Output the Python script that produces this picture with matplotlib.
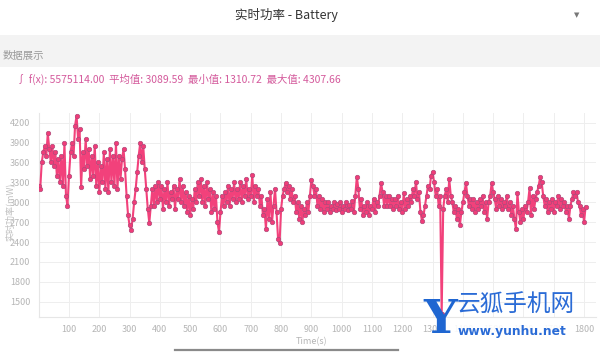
import matplotlib
matplotlib.use("Agg")
import matplotlib.pyplot as plt
import numpy as np

plt.rcParams['font.family'] = ['Noto Sans CJK SC', 'DejaVu Sans']

# sample spacing of the hand-read series (seconds)
step_s = 5

# power readings (mW), every 5 s, 0 .. 1805 s
power_mw = [
    3250, 3200, 3600, 3750, 3850, 3700, 4040, 3800, 3600, 3850,   # 0
    3550, 3750, 3400, 3650, 3300, 3700, 3250, 3890, 3100, 2950,   # 50
    3400, 3750, 3900, 3700, 4150, 4307, 3950, 4100, 3235, 3750,   # 100
    3500, 3950, 3550, 3800, 3350, 3700, 3400, 3850, 3250, 3600,   # 150
    3150, 3550, 3300, 3750, 3200, 3650, 3150, 3800, 3300, 3700,   # 200
    3250, 3890, 3200, 3700, 3350, 3650, 3800, 3500, 3100, 2800,   # 250
    2650, 2580, 2750, 3000, 3200, 3450, 3700, 3890, 3600, 3850,   # 300
    3500, 3200, 2900, 2690, 2950, 3200, 2950, 3250, 3000, 3300,   # 350
    3050, 3250, 2900, 3200, 3000, 3300, 2950, 3150, 3050, 3250,   # 400
    2900, 3200, 3050, 3350, 3000, 3250, 2950, 3150, 2850, 3100,   # 450
    2800, 3050, 2900, 3200, 3000, 3300, 3100, 3350, 3000, 3250,   # 500
    2950, 3300, 3050, 3200, 2850, 3150, 2900, 3100, 2700, 2550,   # 550
    2850, 3100, 2950, 3150, 3000, 3250, 2950, 3200, 3050, 3300,   # 600
    3000, 3200, 3050, 3300, 3000, 3250, 3100, 3350, 3050, 3200,   # 650
    3100, 3411, 3000, 3250, 3100, 3200, 2950, 3100, 2800, 2900,   # 700
    2600, 3050, 2750, 3150, 2700, 2950, 3200, 2850, 2450, 2386,   # 750
    2900, 3100, 3200, 3290, 3150, 3250, 3050, 3200, 3000, 3100,   # 800
    2850, 3000, 2750, 2950, 2700, 2900, 2800, 3000, 2850, 3100,   # 850
    3335, 3250, 3100, 3200, 2950, 3100, 2900, 3050, 2850, 3000,   # 900
    2900, 3000, 2850, 2950, 2900, 3000, 2880, 2980, 2900, 3000,   # 950
    2850, 2950, 2900, 3000, 2880, 2960, 2900, 3020, 2850, 3100,   # 1000
    3386, 3200, 2900, 3050, 2800, 2950, 2850, 3000, 2800, 2950,   # 1050
    2900, 3050, 2850, 3000, 2950, 3100, 3290, 3150, 2950, 3100,   # 1100
    2950, 3100, 2950, 3050, 2900, 3050, 2950, 3100, 2900, 3000,   # 1150
    2850, 3135, 2900, 3050, 2950, 3100, 3000, 3200, 3100, 3310,   # 1200
    3050, 3150, 2850, 2720, 2800, 2950, 3100, 3250, 3200, 3400,   # 1250
    3461, 3300, 3100, 3200, 2950, 3100, 1310, 2900, 3100, 3200,   # 1300
    3000, 3347, 3100, 3000, 2850, 2950, 2750, 2900, 2650, 2850,   # 1350
    3000, 3150, 3290, 3100, 2950, 3050, 2900, 3050, 2850, 3000,   # 1400
    2900, 3050, 2950, 3100, 2850, 3000, 2750, 3000, 3100, 3290,   # 1450
    3150, 3050, 2900, 3100, 2950, 3050, 2900, 3000, 2950, 3100,   # 1500
    2900, 3000, 2800, 2950, 2750, 2600, 3135, 2850, 2700, 2900,   # 1550
    2750, 2950, 2850, 3000, 3210, 2800, 3100, 2900, 3050, 3150,   # 1600
    3250, 3377, 3300, 3100, 2950, 3050, 2850, 3000, 2900, 3050,   # 1650
    2850, 3000, 2950, 3100, 2900, 3050, 2950, 3000, 2850, 2950,   # 1700
    2750, 2950, 3050, 3150, 3100, 3150, 3000, 2950, 2800, 2900,   # 1750
    2700, 2935,                                                   # 1800
]

y_ticks = [1500, 1800, 2100, 2400, 2700, 3000, 3300, 3600, 3900, 4200]
x_ticks = [100, 200, 300, 400, 500, 600, 700, 800, 900, 1000,
           1100, 1200, 1300, 1400, 1500, 1600, 1700, 1800]

title_txt = '实时功率 - Battery'
section_txt = '数据展示'
stats_txt = '∫ f(x): 5575114.00  平均值: 3089.59  最小值: 1310.72  最大值: 4307.66'

W, H = 600, 354
fig = plt.figure(figsize=(6, 3.54), dpi=100)
fig.patch.set_facecolor('white')

# header: title + dropdown arrow
fig.text(286 / W, 1 - 15 / H, title_txt, ha='center', va='center',
         fontsize=9, color='#333333')
fig.text(577 / W, 1 - 15 / H, '▼', ha='center', va='center',
         fontsize=5, color='#777777', family='DejaVu Sans')

# gray section band
band = plt.Rectangle((0, 1 - 67 / H), 1, 32 / H, transform=fig.transFigure,
                     facecolor='#f3f3f3', edgecolor='none', zorder=0)
fig.patches.append(band)
fig.text(3 / W, 1 - 56 / H, section_txt, ha='left', va='center',
         fontsize=7.5, color='#9a9a9a')
fig.text(16 / W, 1 - 79 / H, stats_txt, ha='left', va='center',
         fontsize=7.5, color='#d45a9c')

# plot area
ax = fig.add_axes([38.7 / W, 37 / H, 557.5 / W, 204 / H])
t = np.arange(len(power_mw)) * step_s
ax.plot(t, power_mw, color='#f2417b', lw=1.5, marker='o', ms=3.2,
        mfc='#f03c78', mec='#b04a7a', mew=0.5, zorder=3)

ax.set_xlim(0, 1840)
ax.set_ylim(1270, 4345)
ax.set_xticks(x_ticks)
ax.set_yticks(y_ticks)
ax.tick_params(axis='both', length=0, labelsize=6.5, labelcolor='#b5b5b5', pad=6)
ax.grid(True, color='#eeeeee', lw=0.7)
ax.set_axisbelow(True)
for s in ['top', 'right']:
    ax.spines[s].set_visible(False)
for s in ['left', 'bottom']:
    ax.spines[s].set_color('#e6e6e6')
    ax.spines[s].set_linewidth(0.8)

fig.text(10 / W, 1 - 212 / H, '实时功率(mW)', rotation=90, ha='center',
         va='center', fontsize=6.5, color='#c0c0c0')
fig.text(312 / W, 1 - 342 / H, 'Time(s)', ha='center', va='center',
         fontsize=6.5, color='#b5b5b5')

# scroll indicator under the chart
fig.add_artist(plt.Line2D([175 / W, 398 / W], [1 - 350 / H, 1 - 350 / H],
                          transform=fig.transFigure, color='#8a8a8a', lw=1.6))

# watermark (sits over the tick labels, as in the screenshot)
fig.add_artist(plt.Rectangle((452 / W, 1 - 342 / H), 116 / W, 22 / H,
                             transform=fig.transFigure, facecolor='white',
                             edgecolor='none', alpha=0.9, zorder=5))
fig.text(440 / W, 1 - 320 / H, 'Y', ha='center', va='center', fontsize=34,
         color='#1f66d1', family='DejaVu Serif', fontweight='bold', zorder=6)
fig.text(516 / W, 1 - 305 / H, '云狐手机网', ha='center', va='center',
         fontsize=17, color='#2a6bd6', zorder=6)
fig.text(512 / W, 1 - 331 / H, 'www.yunhu.net', ha='center', va='center',
         fontsize=8.8, color='#2a6bd6', fontweight='bold', family='DejaVu Sans',
         zorder=6)

fig.savefig('out.png', dpi=100)
